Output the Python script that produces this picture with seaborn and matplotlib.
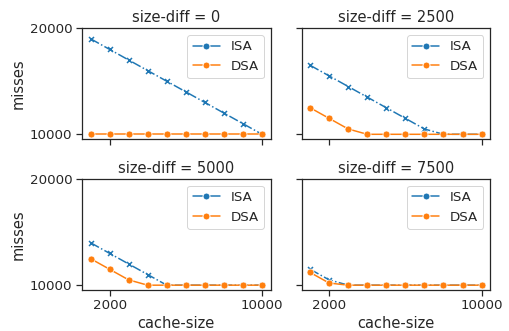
import matplotlib
matplotlib.use("Agg")
import matplotlib.pyplot as plt
from matplotlib.lines import Line2D
import pandas as pd
import seaborn as sns

cache_sizes = [1000, 2000, 3000, 4000, 5000, 6000, 7000, 8000, 9000, 10000]
size_diffs = [0, 2500, 5000, 7500]

isa_misses = {
    0:    [19000, 18000, 17000, 16000, 15000, 14000, 13000, 12000, 11000, 10000],
    2500: [16500, 15500, 14500, 13500, 12500, 11500, 10500, 10000, 10000, 10000],
    5000: [14000, 13000, 12000, 11000, 10000, 10000, 10000, 10000, 10000, 10000],
    7500: [11500, 10500, 10000, 10000, 10000, 10000, 10000, 10000, 10000, 10000],
}
dsa_misses = {
    0:    [10000, 10000, 10000, 10000, 10000, 10000, 10000, 10000, 10000, 10000],
    2500: [12500, 11500, 10500, 10000, 10000, 10000, 10000, 10000, 10000, 10000],
    5000: [12500, 11500, 10500, 10000, 10000, 10000, 10000, 10000, 10000, 10000],
    7500: [11200, 10200, 10000, 10000, 10000, 10000, 10000, 10000, 10000, 10000],
}

algorithms = ["ISA", "DSA"]

rows = []
for sd in size_diffs:
    for algo, table in (("ISA", isa_misses), ("DSA", dsa_misses)):
        for c, m in zip(cache_sizes, table[sd]):
            rows.append({"size-diff": sd, "cache-size": c, "misses": m, "algorithm": algo})
df = pd.DataFrame(rows)

sns.set_theme(context="notebook", style="ticks", font_scale=1.22)
palette = sns.color_palette("tab10", 2)
colors = dict(zip(algorithms, palette))

g = sns.FacetGrid(df, col="size-diff", col_wrap=2, sharex=True, sharey=True,
                  height=2, aspect=1.2, despine=False)
g.figure.set_size_inches(509 / 72, 331 / 72)
g.figure.set_dpi(72)

for ax, sd in zip(g.axes.flat, size_diffs):
    sub = df[df["size-diff"] == sd]
    sns.lineplot(data=sub, x="cache-size", y="misses", hue="algorithm",
                 hue_order=algorithms, palette=colors, marker="o",
                 markersize=7, ax=ax, legend=False)
    isa_line = ax.lines[0]
    isa_line.set_marker("x")
    isa_line.set_linestyle("-.")
    isa_line.set_markersize(5)
    isa_line.set_markeredgewidth(1.5)
    isa_line.set_markeredgecolor(colors["ISA"])
    handles = [Line2D([], [], color=colors[a], marker="o", markersize=7,
                      markeredgecolor="white", linewidth=1.5) for a in algorithms]
    ax.legend(handles, algorithms, loc="upper right")

g.set_titles("{col_var} = {col_name}")
g.set(xticks=[2000, 10000], yticks=[10000, 20000])
g.set(ylim=(9550, 20000))
g.set_axis_labels("cache-size", "misses")

g.figure.subplots_adjust(left=0.161, right=0.963, top=0.915, bottom=0.124,
                         wspace=0.164, hspace=0.36)
g.figure.savefig("out.png", dpi=72)
